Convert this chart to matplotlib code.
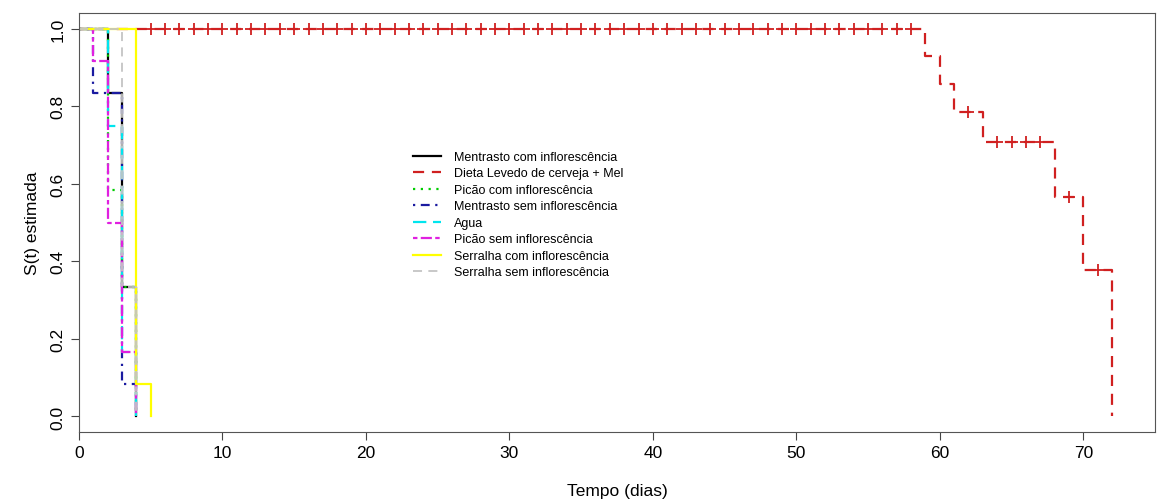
import numpy as np
import matplotlib
matplotlib.use("Agg")
from matplotlib import pyplot as plt

plt.rcParams['font.family'] = ['Liberation Sans', 'DejaVu Sans']

# Kaplan-Meier step curves (time in days, S(t))
labels = ["Mentrasto com inflorescência", "Dieta Levedo de cerveja + Mel",
          "Picão com inflorescência", "Mentrasto sem inflorescência", "Agua",
          "Picão sem inflorescência", "Serralha com inflorescência",
          "Serralha sem inflorescência"]

mentrasto_com_t = [0, 2, 3, 4]
mentrasto_com_s = [1.0, 0.833, 0.333, 0.0]
dieta_t = [0, 59, 60, 61, 63, 68, 70, 72]
dieta_s = [1.0, 0.929, 0.857, 0.786, 0.707, 0.566, 0.377, 0.0]
dieta_censor = list(range(5, 59)) + [62, 64, 65, 66, 67, 69, 71]
picao_com_t = [0, 2, 3, 4]
picao_com_s = [1.0, 0.583, 0.333, 0.0]
mentrasto_sem_t = [0, 1, 3, 4]
mentrasto_sem_s = [1.0, 0.833, 0.083, 0.0]
agua_t = [0, 2, 3, 4]
agua_s = [1.0, 0.75, 0.167, 0.0]
picao_sem_t = [0, 1, 2, 3, 4]
picao_sem_s = [1.0, 0.917, 0.5, 0.167, 0.0]
serralha_com_t = [0, 4, 5]
serralha_com_s = [1.0, 0.083, 0.0]
serralha_sem_t = [0, 3, 4]
serralha_sem_s = [1.0, 0.333, 0.0]

curves = [(mentrasto_com_t, mentrasto_com_s), (dieta_t, dieta_s),
          (picao_com_t, picao_com_s), (mentrasto_sem_t, mentrasto_sem_s),
          (agua_t, agua_s), (picao_sem_t, picao_sem_s),
          (serralha_com_t, serralha_com_s), (serralha_sem_t, serralha_sem_s)]

# R palette 1:8 and lty 1:6 recycled
colors = ["black", "#d02020", "#00cd00", "#1a1aa0", "#00e5ee", "#e020e0",
          "#ffff00", "#c4c4c4"]
dashes = [None, (5, 3.5), (1, 2.5), (1, 2.5, 4, 2.5), (6, 3), (2, 1.5, 5, 1.5),
          None, (5, 3.5)]
widths = [1.6, 1.6, 1.6, 1.6, 1.6, 1.6, 1.6, 1.3]

fig = plt.figure(figsize=(11.58, 5.02), dpi=100)
ax = fig.add_axes([0.0682, 0.1375, 0.9292, 0.8345])

for (t, s), col, ds, lw, lab in zip(curves, colors, dashes, widths, labels):
    line, = ax.plot(t, s, drawstyle="steps-post", color=col, lw=lw, label=lab)
    if ds is not None:
        line.set_dashes(ds)

# censoring marks on the diet curve
idx = np.searchsorted(dieta_t, dieta_censor, side="right") - 1
ax.plot(dieta_censor, np.array(dieta_s)[idx], ls="none", marker="+",
        ms=8.5, mew=1.3, color="#d02020", zorder=5)

ax.set_xlim(0, 75)
ax.set_ylim(-0.04, 1.04)
ax.set_xticks(range(0, 71, 10))
ax.set_yticks(np.arange(0, 1.01, 0.2))
ax.set_yticklabels(["%.1f" % v for v in np.arange(0, 1.01, 0.2)],
                   rotation=90, va="center")
ax.tick_params(labelsize=12.5, length=6, color="#444444")
for sp in ax.spines.values():
    sp.set_color("#555555")
ax.set_xlabel("Tempo (dias)", fontsize=12.5, labelpad=16.5)
ax.set_ylabel("S(t) estimada", fontsize=12.5, labelpad=8)

ax.legend(loc="upper left", bbox_to_anchor=(413 / 1158, 1 - 152 / 502),
          bbox_transform=fig.transFigure, frameon=False, fontsize=9,
          handlelength=2.2, handletextpad=1.1, labelspacing=0.36,
          borderpad=0, borderaxespad=0)

fig.savefig("out.png", dpi=100)
plt.close("all")
